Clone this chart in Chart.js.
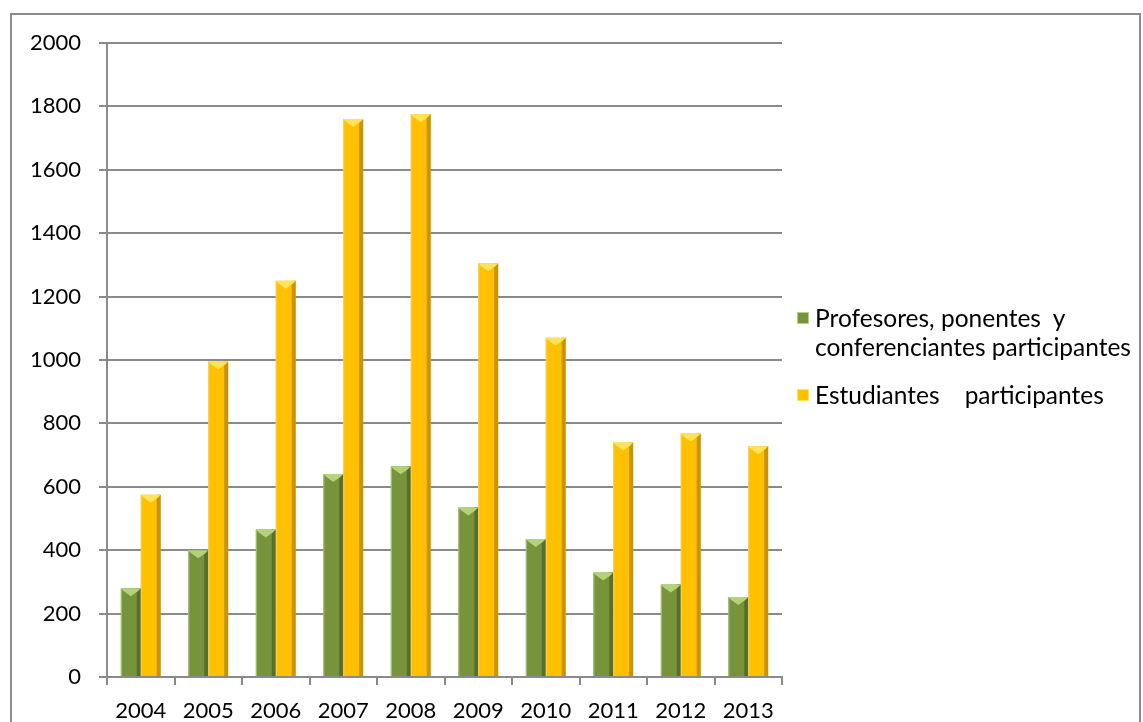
<!DOCTYPE html>
<html>
<head>
<meta charset="utf-8">
<script src="https://cdn.jsdelivr.net/npm/chart.js@4/dist/chart.umd.min.js"></script>
<style>
  html, body { margin: 0; padding: 0; background: #fff; }
  #wrap { position: relative; width: 1143px; height: 722px; overflow: hidden; }
  #frame { position: absolute; left: 10px; top: 13px; width: 1131px; height: 800px; border: 2px solid #8a8a8a; box-sizing: border-box; }
  canvas { position: absolute; left: 0; top: 0; }
  #legend { position: absolute; left: 797px; top: 303px; font-family: Lato, "Open Sans", sans-serif; font-size: 24.5px; color: #000; line-height: 29px; white-space: nowrap; }
  .item { position: relative; padding-left: 18px; margin-bottom: 19px; }
  .sw { position: absolute; left: 0; top: 9px; width: 12px; height: 12px; box-sizing: border-box; }
</style>
</head>
<body>
<div id="wrap">
  <div id="frame"></div>
  <canvas id="BarChart" width="1143" height="722"></canvas>
  <div id="legend"></div>
</div>
<script>
const ctx = document.getElementById('BarChart');

let years = ['2004', '2005', '2006', '2007', '2008', '2009', '2010', '2011', '2012', '2013'];
let profesores = [280, 400, 465, 640, 665, 535, 435, 330, 292, 252];
let estudiantes = [575, 995, 1250, 1760, 1775, 1305, 1070, 740, 768, 728];
let seriesNames = [['Profesores, ponentes\u00a0 y', 'conferenciantes participantes'], ['Estudiantes \u00a0\u00a0 participantes']];

let colors = [
  {main: '#77933c', dark: '#56702a', light: '#b3d27a', edge: '#a9c47e'},
  {main: '#ffc000', dark: '#c99400', light: '#ffe45a', edge: '#f0cf70'}
];

// shading on top of every bar: dark right side and light chevron top
const bevel = {
  id: 'bevel',
  afterDatasetsDraw(chart) {
    const c = chart.ctx;
    chart.data.datasets.forEach((ds, i) => {
      const col = colors[i];
      chart.getDatasetMeta(i).data.forEach(bar => {
        const l = bar.x - bar.width / 2, r = bar.x + bar.width / 2;
        const t = bar.y, b = bar.base;
        c.save();
        c.fillStyle = col.dark;
        c.fillRect(r - 4, t, 4, b - t);
        c.fillStyle = col.edge;
        c.fillRect(l, t, 1, b - t);
        c.fillStyle = col.light;
        c.beginPath();
        c.moveTo(l, t);
        c.lineTo(r, t);
        c.lineTo(r - 3, t + 3);
        c.lineTo(bar.x, t + 8);
        c.lineTo(l + 3, t + 3);
        c.closePath();
        c.fill();
        c.restore();
      });
    });
  }
};

new Chart(ctx, {
  type: 'bar',
  data: {
    labels: years,
    datasets: [
      {label: 'Profesores', data: profesores, backgroundColor: colors[0].main, categoryPercentage: 0.59, barPercentage: 1},
      {label: 'Estudiantes', data: estudiantes, backgroundColor: colors[1].main, categoryPercentage: 0.59, barPercentage: 1}
    ]
  },
  options: {
    responsive: false,
    animation: false,
    layout: {padding: {left: 0, right: 361, top: 43, bottom: 0}},
    plugins: {legend: {display: false}, tooltip: {enabled: false}},
    scales: {
      x: {
        afterFit: s => { s.height = 45; },
        grid: {offset: true, drawOnChartArea: false, color: '#8a8a8a', lineWidth: 2, tickLength: 8},
        border: {color: '#8a8a8a', width: 2},
        ticks: {color: '#000', font: {family: 'Lato', size: 22}, padding: 13}
      },
      y: {
        min: 0, max: 2000,
        afterFit: s => { s.width = 107; },
        grid: {color: '#8a8a8a', lineWidth: 2, tickLength: 8},
        border: {color: '#8a8a8a', width: 2},
        ticks: {stepSize: 200, color: '#000', font: {family: 'Lato', size: 22}, padding: 18, callback: v => String(v)}
      }
    }
  },
  plugins: [bevel]
});

let legend = document.getElementById('legend');
seriesNames.forEach((name, i) => {
  let d = document.createElement('div');
  d.className = 'item';
  d.innerHTML = '<span class="sw" style="background:' + colors[i].main + ';border:1px solid ' + colors[i].light + '"></span>' + name.join('<br>');
  legend.appendChild(d);
});
</script>
</body>
</html>
